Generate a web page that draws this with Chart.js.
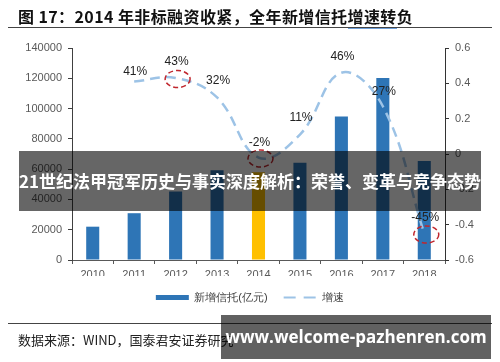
<!DOCTYPE html>
<html>
<head>
<meta charset="utf-8">
<script src="https://cdn.jsdelivr.net/npm/chart.js@4.4.1/dist/chart.umd.min.js"></script>
<style>
  html, body { margin: 0; padding: 0; background: #fff; }
  #wrap { position: relative; width: 500px; height: 362px; overflow: hidden; }
  #myChart { position: absolute; left: 0; top: 0; }
  .title { position: absolute; left: 18px; top: 4px; font: bold 16px "Noto Sans CJK SC", sans-serif; letter-spacing: 0.4px; color: #111; white-space: nowrap; }
  .title u { text-decoration: none; border-bottom: 1px solid #6f9fd8; }
  .rule { position: absolute; left: 8px; width: 484px; height: 1px; background: #444; }
  .source { position: absolute; left: 18px; top: 330px; font: 13px "Noto Sans CJK SC", sans-serif; color: #222; white-space: nowrap; }
  .banner { position: absolute; left: 19px; top: 151px; width: 462px; height: 60px; background: rgba(0,0,0,0.6);
            color: #fff; font: bold 17px "Noto Sans CJK SC", sans-serif; line-height: 60px; text-align: center; white-space: nowrap; }
  .mark { position: absolute; left: 221px; top: 315px; width: 270px; height: 44px; background: rgba(0,0,0,0.62);
          color: #fff; font: bold 17px "Open Sans", "DejaVu Sans", sans-serif; line-height: 44px; text-align: center; white-space: nowrap; }
</style>
</head>
<body>
<div id="wrap">
  <canvas id="myChart" width="500" height="362"></canvas>
  <div class="title">图 17：2014 年非标融资收紧，全年新增信托<u>增速转</u>负</div>
  <div class="rule" style="top:27px"></div>
  <div class="rule" style="top:323px"></div>
  <div class="source">数据来源：WIND，国泰君安证券研究</div>
  <div class="banner">21世纪法甲冠军历史与事实深度解析：荣誉、变革与竞争态势</div>
  <div class="mark">www.welcome-pazhenren.com</div>
</div>
<script>
const years = ['2010', '2011', '2012', '2013', '2014', '2015', '2016', '2017', '2018'];
const newTrust = [22000, 30900, 45300, 59300, 58000, 64200, 94700, 120200, 65300];
const growth = [null, 0.41, 0.43, 0.32, -0.02, 0.11, 0.46, 0.27, -0.45];
const circled = ['2012', '2014', '2018'];

// label offsets above each growth point (pixels)
const labelLift = [0, 10, 16, 17, 15, 17, 16, 15, 16];

const barColors = years.map(y => y === '2014' ? '#ffc000' : '#2e75b6');

const growthLabels = {
    id: 'growthLabels',
    afterDatasetsDraw(chart) {
        const ctx = chart.ctx;
        const x = chart.scales.x;
        const y1 = chart.scales.y1;
        ctx.save();
        ctx.font = '12px Arial';
        ctx.fillStyle = '#222';
        ctx.textAlign = 'center';
        ctx.textBaseline = 'middle';
        growth.forEach((v, i) => {
            if (v === null) return;
            const px = x.getPixelForValue(i);
            const py = y1.getPixelForValue(v);
            ctx.fillText(Math.round(v * 100) + '%', px + 1, py - labelLift[i]);
        });
        // red dashed rings
        ctx.strokeStyle = '#c0262d';
        ctx.lineWidth = 1.5;
        ctx.setLineDash([5, 3]);
        circled.forEach(yr => {
            const i = years.indexOf(yr);
            const px = x.getPixelForValue(i) + 2;
            const py = y1.getPixelForValue(growth[i]) + 1;
            ctx.beginPath();
            ctx.ellipse(px, py, 12.5, 8.5, 0, 0, Math.PI * 2);
            ctx.stroke();
        });
        ctx.restore();
    }
};

const tickFont = { family: 'Arial', size: 11 };

function legendLabels(chart) {
    const items = Chart.defaults.plugins.legend.labels.generateLabels(chart);
    items.forEach(item => {
        if (item.datasetIndex === 1) {
            item.lineDash = [12, 8];
            item.lineWidth = 2;
            item.strokeStyle = '#9dc3e6';
        }
    });
    return items;
}

function plotChart() {
    const ctx = document.getElementById('myChart');

    new Chart(ctx, {
        type: 'bar',
        data: {
            labels: years,
            datasets: [{
                type: 'bar',
                label: '新增信托(亿元)',
                data: newTrust,
                backgroundColor: barColors,
                borderWidth: 0,
                barPercentage: 0.63,
                categoryPercentage: 0.5,
                pointStyle: 'rect',
                yAxisID: 'y',
                order: 2
            }, {
                type: 'line',
                label: '增速',
                data: growth,
                borderColor: '#9dc3e6',
                backgroundColor: '#9dc3e6',
                borderWidth: 2.5,
                borderDash: [10, 6],
                tension: 0.4,
                pointRadius: 0,
                pointStyle: 'line',
                fill: false,
                clip: false,
                yAxisID: 'y1',
                order: 1
            }]
        },
        options: {
            responsive: false,
            animation: false,
            layout: { padding: { top: 48, bottom: 49, left: 0, right: 0 } },
            plugins: {
                tooltip: { enabled: false },
                legend: {
                    position: 'bottom',
                    labels: {
                        usePointStyle: true,
                        pointStyleWidth: 33,
                        boxHeight: 5,
                        padding: 16,
                        color: '#404040',
                        font: { family: 'Arial', size: 11 },
                        generateLabels: legendLabels,
                        sort: (a, b) => a.datasetIndex - b.datasetIndex
                    }
                }
            },
            scales: {
                x: {
                    afterFit: s => { s.height = 16; },
                    grid: { drawOnChartArea: false, tickLength: 4, color: '#595959' },
                    border: { color: '#595959' },
                    ticks: { color: '#595959', font: tickFont, padding: 4 }
                },
                y: {
                    position: 'left',
                    min: 0,
                    max: 140000,
                    afterFit: s => { s.width = 72; },
                    grid: { drawOnChartArea: false, tickLength: 4, color: '#404040' },
                    border: { color: '#404040' },
                    ticks: { stepSize: 20000, color: '#595959', font: tickFont, padding: 6,
                             callback: v => String(v) }
                },
                y1: {
                    position: 'right',
                    min: -0.6,
                    max: 0.6,
                    afterFit: s => { s.width = 55; },
                    grid: { drawOnChartArea: false, tickLength: 4, color: '#333' },
                    border: { color: '#333' },
                    ticks: { stepSize: 0.2, color: '#595959', font: tickFont, padding: 6,
                             callback: v => String(Math.round(v * 10) / 10) }
                }
            }
        },
        plugins: [growthLabels]
    });
}

plotChart();
</script>
</body>
</html>
